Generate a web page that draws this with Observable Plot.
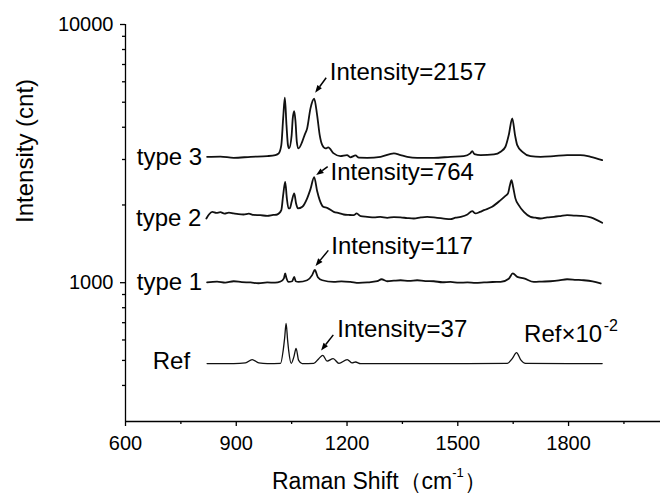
<!DOCTYPE html>
<html>
<head>
<meta charset="utf-8">
<script src="https://cdn.jsdelivr.net/npm/d3@7"></script>
<script src="https://cdn.jsdelivr.net/npm/@observablehq/plot@0.6"></script>
<style>
  html, body { margin: 0; padding: 0; background: #fff; }
  #chart { width: 660px; height: 495px; }
</style>
</head>
<body>
<div id="chart"></div>
<script>
// Raman spectra of three sample types and the reference (reference scaled by 10^-2).
// Each series: [Raman shift (cm^-1), intensity (cnt)].
const type3 = [
  [821, 3073], [857, 3080], [893, 3046], [939, 3073], [984, 3092], [1006, 3120],
  [1015, 3168], [1022, 3411], [1027, 4328], [1031.5, 5203], [1036, 4079], [1040, 3411],
  [1043, 3313], [1050, 3730], [1053, 4328], [1057, 4620], [1060.5, 4200], [1064, 3513],
  [1068.5, 3313], [1078.5, 3513], [1085, 3730], [1092, 3960], [1101, 4733], [1111, 5157],
  [1119, 4459], [1126, 3730], [1133, 3411], [1142, 3313], [1149, 3340], [1164, 3168],
  [1182, 3092], [1200, 3120], [1209, 3060], [1223, 3110], [1232, 3050], [1255, 3046],
  [1291, 3073], [1327, 3168], [1345, 3120], [1363, 3073], [1390, 3046], [1435, 3046],
  [1480, 3073], [1516, 3092], [1534, 3168], [1539, 3234], [1545, 3150], [1562, 3120],
  [1598, 3140], [1616, 3214], [1629, 3361], [1638, 3730], [1647.5, 4328], [1655, 3730],
  [1661, 3411], [1675, 3214], [1697, 3092], [1724, 3073], [1760, 3092], [1796, 3120],
  [1832, 3120], [1860, 3073], [1891, 2984]
];
const type2 = [
  [819, 1773], [826, 1837], [835, 1881], [846, 1865], [857, 1875], [868, 1852],
  [880, 1868], [893, 1854], [906, 1842], [920, 1837], [934, 1850], [947, 1830],
  [965, 1826], [984, 1815], [1000, 1830], [1011, 1837], [1022, 1910], [1027, 2184],
  [1032.5, 2459], [1037, 2121], [1041.5, 1939], [1045, 1939], [1050, 2058], [1057, 2218],
  [1062, 2027], [1067, 1939], [1079, 1968], [1092, 2121], [1101, 2303], [1111, 2564],
  [1119, 2266], [1126, 2089], [1135.5, 1968], [1146, 1950], [1164, 1881], [1178, 1860],
  [1191, 1837], [1205, 1830], [1218, 1826], [1226, 1854], [1237, 1810], [1255, 1800],
  [1273, 1790], [1290, 1798], [1309, 1783], [1327, 1795], [1345, 1790], [1363, 1780],
  [1381, 1773], [1400, 1790], [1417, 1799], [1444, 1783], [1462, 1772], [1480, 1762],
  [1494, 1785], [1508, 1799], [1526, 1837], [1539, 1894], [1548, 1854], [1560, 1880],
  [1571, 1910], [1593, 1968], [1616, 2089], [1629, 2170], [1636, 2218], [1641, 2380],
  [1645.5, 2497], [1650, 2343], [1656, 2121], [1665, 1997], [1679, 1881], [1697, 1799],
  [1710, 1785], [1724, 1773], [1742, 1790], [1760, 1799], [1778, 1812], [1796, 1826],
  [1814, 1820], [1832, 1815], [1860, 1790], [1891, 1706]
];
const type1 = [
  [821, 1002], [848, 1009], [870, 1000], [893, 1013], [915, 1005], [939, 1002],
  [960, 995], [984, 1002], [1005, 1000], [1020, 1011], [1029, 1040], [1032.5, 1086],
  [1036, 1040], [1041.5, 1007], [1051.5, 1013], [1057, 1053], [1061, 1013], [1069, 1007],
  [1092, 1022], [1105.5, 1070], [1112.8, 1121], [1121, 1050], [1133, 1022], [1164, 1007],
  [1185, 1012], [1209, 1007], [1232, 998], [1255, 1002], [1282, 1013], [1293.5, 1031],
  [1309, 1013], [1327, 1018], [1345, 1022], [1368, 1016], [1390, 1022], [1412, 1014],
  [1435, 1013], [1458, 1004], [1480, 1007], [1503, 1000], [1526, 1002], [1548, 998],
  [1571, 1002], [1594, 1006], [1616, 1007], [1638, 1036], [1649, 1086], [1661, 1053],
  [1679, 1040], [1706, 1007], [1728, 1010], [1751, 1013], [1774, 1020], [1796, 1031],
  [1820, 1026], [1841, 1022], [1865, 1012], [1887, 993]
];
const ref = [
  [821, 486], [893, 486], [925, 489], [943, 504], [961, 489], [984, 486],
  [1020, 487], [1027, 546], [1031, 610], [1035, 695], [1039, 600], [1042, 546],
  [1049, 487], [1056, 516], [1062, 556], [1069, 500], [1078.5, 486], [1110, 487],
  [1123.5, 508], [1134.4, 523], [1146, 497], [1162.5, 508], [1178, 487], [1200.5, 504],
  [1214, 489], [1223, 493], [1236.5, 486], [1345, 486], [1526, 486], [1634, 487],
  [1647.5, 508], [1659, 536], [1670, 504], [1683.5, 487], [1891, 486]
];

// Peak callouts: marked band, its local baseline and the stated peak intensity.
const calloutSeries = ["type 3", "type 2", "type 1", "Ref"];
const calloutShift = [1111, 1111, 1112.8, 1134.4];
const calloutBaseline = [3000, 1800, 1004, 486];
const calloutIntensity = [2157, 764, 117, 37];

// Axis ticks.
const xTicks = [600, 900, 1200, 1500, 1800];
const xMinorTicks = [750, 1050, 1350, 1650, 1950];
const yTicks = [1000, 10000];
const yMinorTicks = [400, 500, 600, 700, 800, 900, 2000, 3000, 4000, 5000, 6000, 7000, 8000, 9000];

// Long-format table for the line marks.
const spectra = [["type 3", type3], ["type 2", type2], ["type 1", type1], ["Ref", ref]]
  .flatMap(([name, pts]) => pts.map(([x, y]) => ({name, x, y})));
const starts = d3.groups(spectra, d => d.name).map(([name, rows]) => rows[0]);
const refEnd = [ref[ref.length - 1]].map(([x, y]) => ({x, y}));

const callouts = calloutSeries.map((name, i) => ({
  name,
  x: calloutShift[i],
  y: calloutBaseline[i] + calloutIntensity[i],
  label: `Intensity=${calloutIntensity[i]}`
}));

// Pixel offsets of arrow tail, arrow tip and label baseline from each peak.
const calloutLayout = [
  {tail: [12.5, -20.5], tip: [1.5, -5.5], text: [15.6, -18.8]},
  {tail: [14, -10], tip: [2.5, -1.5], text: [16.3, 2.4]},
  {tail: [14, -19], tip: [1.2, -3.5], text: [16.4, -16]},
  {tail: [11, -20], tip: [-1.2, -4.5], text: [14.4, -18.2]}
];

const font = "'Liberation Sans', Arial, Helvetica, sans-serif";

// Arrows with filled heads pointing at each peak.
const calloutArrows = (index, scales) => {
  const g = d3.create("svg:g").attr("fill", "black").attr("stroke", "black");
  callouts.forEach((c, i) => {
    const px = scales.x(c.x), py = scales.y(c.y);
    const L = calloutLayout[i];
    const x1 = px + L.tail[0], y1 = py + L.tail[1];
    const x2 = px + L.tip[0], y2 = py + L.tip[1];
    const len = Math.hypot(x2 - x1, y2 - y1);
    const ux = (x2 - x1) / len, uy = (y2 - y1) / len;
    const head = 7.5, half = 2.8;
    const bx = x2 - ux * head, by = y2 - uy * head;
    g.append("line")
      .attr("x1", x1).attr("y1", y1).attr("x2", bx).attr("y2", by)
      .attr("stroke-width", 1.5);
    g.append("path")
      .attr("stroke", "none")
      .attr("d", `M${x2},${y2}L${bx - uy * half},${by + ux * half}L${bx + uy * half},${by - ux * half}Z`);
  });
  return g.node();
};

// X-axis title with superscript.
const xTitle = (index, scales, values, dimensions) => {
  const t = d3.create("svg:text")
    .attr("x", dimensions.marginLeft + 147)
    .attr("y", dimensions.height - 6.5)
    .attr("text-anchor", "start")
    .attr("font-size", 23)
    .attr("fill", "black");
  t.append("tspan").text("Raman Shift（cm");
  t.append("tspan").attr("dy", -12).attr("font-size", 13).text("-1");
  t.append("tspan").attr("dy", 12).text("）");
  return t.node();
};

const chart = Plot.plot({
  width: 660,
  height: 495,
  marginLeft: 125,
  marginRight: 0,
  marginTop: 24,
  marginBottom: 74,
  style: {fontFamily: font, fontSize: "20px", color: "black", background: "white", overflow: "visible"},
  x: {domain: [600, 2049]},
  y: {type: "log", domain: [290, 10000]},
  marks: [
    Plot.ruleX([600], {stroke: "black", strokeWidth: 1.3}),
    Plot.ruleY([290], {stroke: "black", strokeWidth: 1.3}),
    Plot.axisX(xTicks, {tickSize: 5, tickPadding: 9, tickFormat: d => `${d}`, fontSize: 20, strokeWidth: 1.3, label: null}),
    Plot.axisX(xMinorTicks, {tickSize: 3, tickFormat: () => "", strokeWidth: 1.3, label: null}),
    Plot.axisY(yTicks, {tickSize: 5, tickPadding: 7, tickFormat: d => `${d}`, fontSize: 20, strokeWidth: 1.3, label: null}),
    Plot.axisY(yMinorTicks, {tickSize: 3, tickFormat: () => "", strokeWidth: 1.3, label: null}),
    Plot.text(["Intensity (cnt)"], {frameAnchor: "left", dx: -100, rotate: -90, fontSize: 24}),
    xTitle,
    Plot.line(spectra.filter(d => d.name !== "Ref"), {
      x: "x", y: "y", z: "name", stroke: "#111", strokeWidth: 1.8, curve: "monotone-x"
    }),
    Plot.line(spectra.filter(d => d.name === "Ref"), {
      x: "x", y: "y", stroke: "#111", strokeWidth: 1.3, curve: "monotone-x"
    }),
    Plot.text(starts.filter(d => d.name !== "Ref"), {
      x: "x", y: "y", text: "name", textAnchor: "end", lineAnchor: "bottom", dx: -5, dy: 8, fontSize: 24
    }),
    Plot.text(starts.filter(d => d.name === "Ref"), {
      x: "x", y: "y", text: "name", textAnchor: "end", lineAnchor: "bottom", dx: -17, dy: 5, fontSize: 24
    }),
    Plot.text(refEnd, {x: "x", y: "y", text: () => "Ref×10", textAnchor: "end", lineAnchor: "bottom", dy: -22, fontSize: 24}),
    Plot.text(refEnd, {x: "x", y: "y", text: () => "-2", textAnchor: "start", lineAnchor: "bottom", dx: 1.5, dy: -33, fontSize: 16}),
    ...calloutLayout.map((L, i) => Plot.text([callouts[i]], {
      x: "x", y: "y", text: "label", textAnchor: "start", lineAnchor: "bottom",
      dx: L.text[0], dy: L.text[1], fontSize: 24
    })),
    calloutArrows
  ]
});

document.getElementById("chart").appendChild(chart);
</script>
</body>
</html>
